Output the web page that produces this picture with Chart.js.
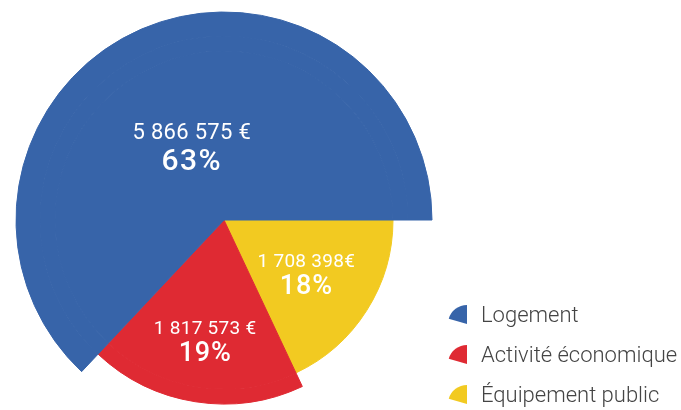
<!DOCTYPE html>
<html lang="fr">
<head>
<meta charset="utf-8">
<title>Répartition</title>
<script src="https://cdn.jsdelivr.net/npm/chart.js@4.4.1/dist/chart.umd.min.js"></script>
<style>
  html, body { margin: 0; padding: 0; background: #fff; overflow: hidden; }
  .chart-box { position: absolute; left: 0; top: 0; width: 681px; height: 440px; }
  .legend { position: absolute; left: 447px; top: 302px; font-family: Roboto, "Noto Sans", sans-serif; font-weight: 300; font-size: 22px; color: #444; }
  .legend-item { position: relative; height: 40px; }
  .legend-item canvas { position: absolute; left: 0; top: 3px; }
  .legend-item span { position: absolute; left: 34px; top: 0; line-height: 26px; white-space: nowrap; }
</style>
</head>
<body>
<div class="chart-box"><canvas id="myChart"></canvas></div>
<div class="legend" id="legend"></div>

<script>
const categories = ["Logement", "Activité économique", "Équipement public"];
const shares = [63, 19, 18];
const amountLabels = ["5 866 575 €", "1 817 573 €", "1 708 398€"];
const colors = ["#3764A9", "#DF2A33", "#F2CA21"];

// the pie runs clockwise from 3 o'clock: yellow, red, then blue
const drawOrder = [2, 1, 0];

// each slice gets its own radius: rings from outside in, slice i fills ring sliceRing[i] and everything inside
const ringWeights = [24, 15, 169];
const sliceRing = [0, 1, 2];

// label placement (fraction of the slice radius) and font sizes
const labelDist = [0.39, 0.656, 0.577];
const labelStyle = [
  { value: 22, pct: 30, gap: 14, space: 0.3, pctSpace: 1.5 },
  { value: 19, pct: 27, gap: 12.4, space: 0.3, pctSpace: 0.8 },
  { value: 19, pct: 27, gap: 12.4, space: 0.3, pctSpace: 0.8 },
];

const datasets = ringWeights.map((w, ring) => {
  const fills = drawOrder.map((i) => (sliceRing[i] <= ring ? colors[i] : "rgba(0,0,0,0)"));
  return {
    data: drawOrder.map((i) => shares[i]),
    backgroundColor: fills,
    borderColor: fills,
    borderWidth: 1,
    weight: w,
  };
});

// white amount + percentage inside each slice
const sliceLabels = {
  id: "sliceLabels",
  afterDatasetsDraw(chart) {
    const ctx = chart.ctx;
    categories.forEach((name, i) => {
      const arc = chart.getDatasetMeta(sliceRing[i]).data[drawOrder.indexOf(i)];
      const mid = (arc.startAngle + arc.endAngle) / 2;
      const r = arc.outerRadius * labelDist[i];
      const x = arc.x + Math.cos(mid) * r;
      const y = arc.y + Math.sin(mid) * r;
      const st = labelStyle[i];

      ctx.save();
      ctx.fillStyle = "#fff";
      ctx.textAlign = "center";
      ctx.textBaseline = "alphabetic";

      ctx.font = `400 ${st.value}px Roboto, "Noto Sans", sans-serif`;
      ctx.letterSpacing = st.space + "px";
      ctx.fillText(amountLabels[i], x, y - st.gap + st.value * 0.355);

      ctx.font = `500 ${st.pct}px Roboto, "Noto Sans", sans-serif`;
      ctx.letterSpacing = st.pctSpace + "px";
      ctx.fillText(shares[i] + "%", x, y + st.gap + st.pct * 0.355);
      ctx.restore();
    });
  },
};

const ctx = document.getElementById("myChart").getContext("2d");

new Chart(ctx, {
  type: "pie",
  data: {
    labels: drawOrder.map((i) => categories[i]),
    datasets: datasets,
  },
  options: {
    responsive: true,
    maintainAspectRatio: false,
    animation: false,
    events: [],
    rotation: 90,
    radius: 208,
    cutout: 0,
    hoverOffset: 0,
    layout: {
      padding: { left: 16, right: 249, top: 12, bottom: 12 },
    },
    plugins: {
      legend: { display: false },
      tooltip: { enabled: false },
    },
  },
  plugins: [sliceLabels],
});

// legend with little pie-wedge icons
function buildLegend() {
  const box = document.getElementById("legend");
  categories.forEach((name, i) => {
    const item = document.createElement("div");
    item.className = "legend-item";

    const icon = document.createElement("canvas");
    icon.width = 21;
    icon.height = 21;
    const ic = icon.getContext("2d");
    ic.fillStyle = colors[i];
    ic.beginPath();
    ic.moveTo(20, 19);
    ic.arc(20, 19, 19, (196 * Math.PI) / 180, (270 * Math.PI) / 180);
    ic.closePath();
    ic.fill();

    const label = document.createElement("span");
    label.textContent = name;

    item.appendChild(icon);
    item.appendChild(label);
    box.appendChild(item);
  });
}

buildLegend();
</script>
</body>
</html>
